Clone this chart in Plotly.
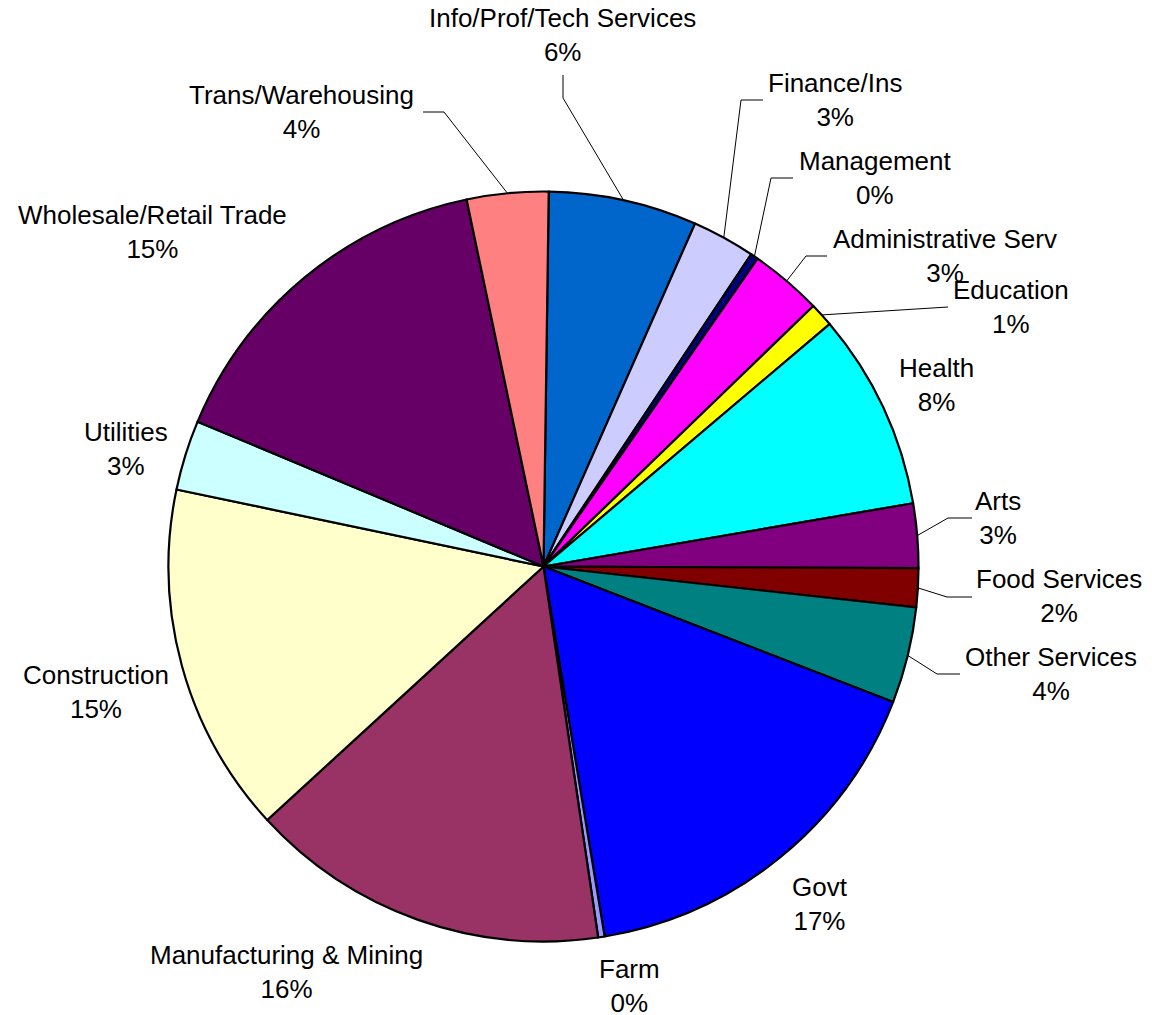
import math
import plotly.graph_objects as go

# ---- data (clockwise order, starting near 12 o'clock) ----
categories = ["Info/Prof/Tech Services", "Finance/Ins", "Management", "Administrative Serv",
              "Education", "Health", "Arts", "Food Services", "Other Services", "Govt", "Farm",
              "Manufacturing & Mining", "Construction", "Utilities", "Wholesale/Retail Trade",
              "Trans/Warehousing"]
shares = [6.40, 2.72, 0.33, 3.11, 1.03, 8.49, 2.77, 1.67, 4.14, 16.51, 0.28,
          15.51, 15.11, 3.02, 15.40, 3.51]

# ---- styles / layout ----
colors = ["#0066CC", "#CCCCFF", "#000080", "#FF00FF", "#FFFF00", "#00FFFF", "#800080",
          "#800000", "#008080", "#0000FF", "#9999FF", "#993366", "#FFFFCC", "#CCFFFF",
          "#660066", "#FF8080"]

W, H = 1152, 1015
CX, CY, R = 543.5, 566.5, 375.0
ROT = 0.8

# label block centres (pixels)
label_pos = {
    "Info/Prof/Tech Services": (562, 35),
    "Finance/Ins": (835, 100),
    "Management": (875, 178),
    "Administrative Serv": (945, 256),
    "Education": (1011, 307),
    "Health": (936, 385),
    "Arts": (998, 518),
    "Food Services": (1059, 596),
    "Other Services": (1051, 674),
    "Govt": (820, 904),
    "Farm": (629, 986),
    "Manufacturing & Mining": (286, 972),
    "Construction": (96, 692),
    "Utilities": (126, 449),
    "Wholesale/Retail Trade": (152, 232),
    "Trans/Warehousing": (301, 112),
}
# leader lines: elbow point, end point (pixels)
leaders = {
    "Trans/Warehousing": ((444, 112), (423, 112)),
    "Info/Prof/Tech Services": ((563, 98), (563, 75)),
    "Finance/Ins": ((741, 100), (763, 100)),
    "Management": ((771, 178), (793, 178)),
    "Administrative Serv": ((806, 256), (827, 256)),
    "Education": ((948, 307), (948, 307)),
    "Arts": ((948, 518), (972, 518)),
    "Food Services": ((947, 597), (972, 597)),
    "Other Services": ((937, 674), (960, 674)),
}


def px(x):
    return x / W


def py(y):
    return 1 - y / H


fig = go.Figure(go.Pie(
    labels=categories, values=shares, sort=False, direction="clockwise",
    rotation=ROT, textinfo="none", hoverinfo="label+percent",
    marker=dict(colors=colors, line=dict(color="black", width=2.2)),
    domain=dict(x=[px(CX - R), px(CX + R)], y=[py(CY + R), py(CY - R)]),
    showlegend=False,
))

total = sum(shares)
annotations = []
shapes = []
cum = 0.0
for name, v in zip(categories, shares):
    pct = round(v / total * 100)
    lx, ly = label_pos[name]
    annotations.append(dict(
        x=px(lx), y=py(ly), xref="paper", yref="paper", xanchor="center", yanchor="middle",
        text=f"{name}<br>{pct}%", showarrow=False, align="center",
        font=dict(family="Liberation Sans, Arial, sans-serif", size=26, color="black"),
    ))
    mid = math.radians(ROT + (cum + v / 2) / total * 360)
    cum += v
    if name in leaders:
        sx = CX + R * math.sin(mid)
        sy = CY - R * math.cos(mid)
        (ex, ey), (tx, ty) = leaders[name]
        for (a, b), (c, d) in [((sx, sy), (ex, ey)), ((ex, ey), (tx, ty))]:
            if (a, b) == (c, d):
                continue
            shapes.append(dict(type="line", xref="paper", yref="paper",
                               x0=px(a), y0=py(b), x1=px(c), y1=py(d),
                               line=dict(color="black", width=1)))

fig.update_layout(
    width=W, height=H, margin=dict(l=0, r=0, t=0, b=0),
    paper_bgcolor="white", plot_bgcolor="white",
    annotations=annotations, shapes=shapes,
)

fig.write_html("out.html", config={"displayModeBar": False},
               post_script="document.body.style.margin='0';document.body.style.overflow='hidden';")
